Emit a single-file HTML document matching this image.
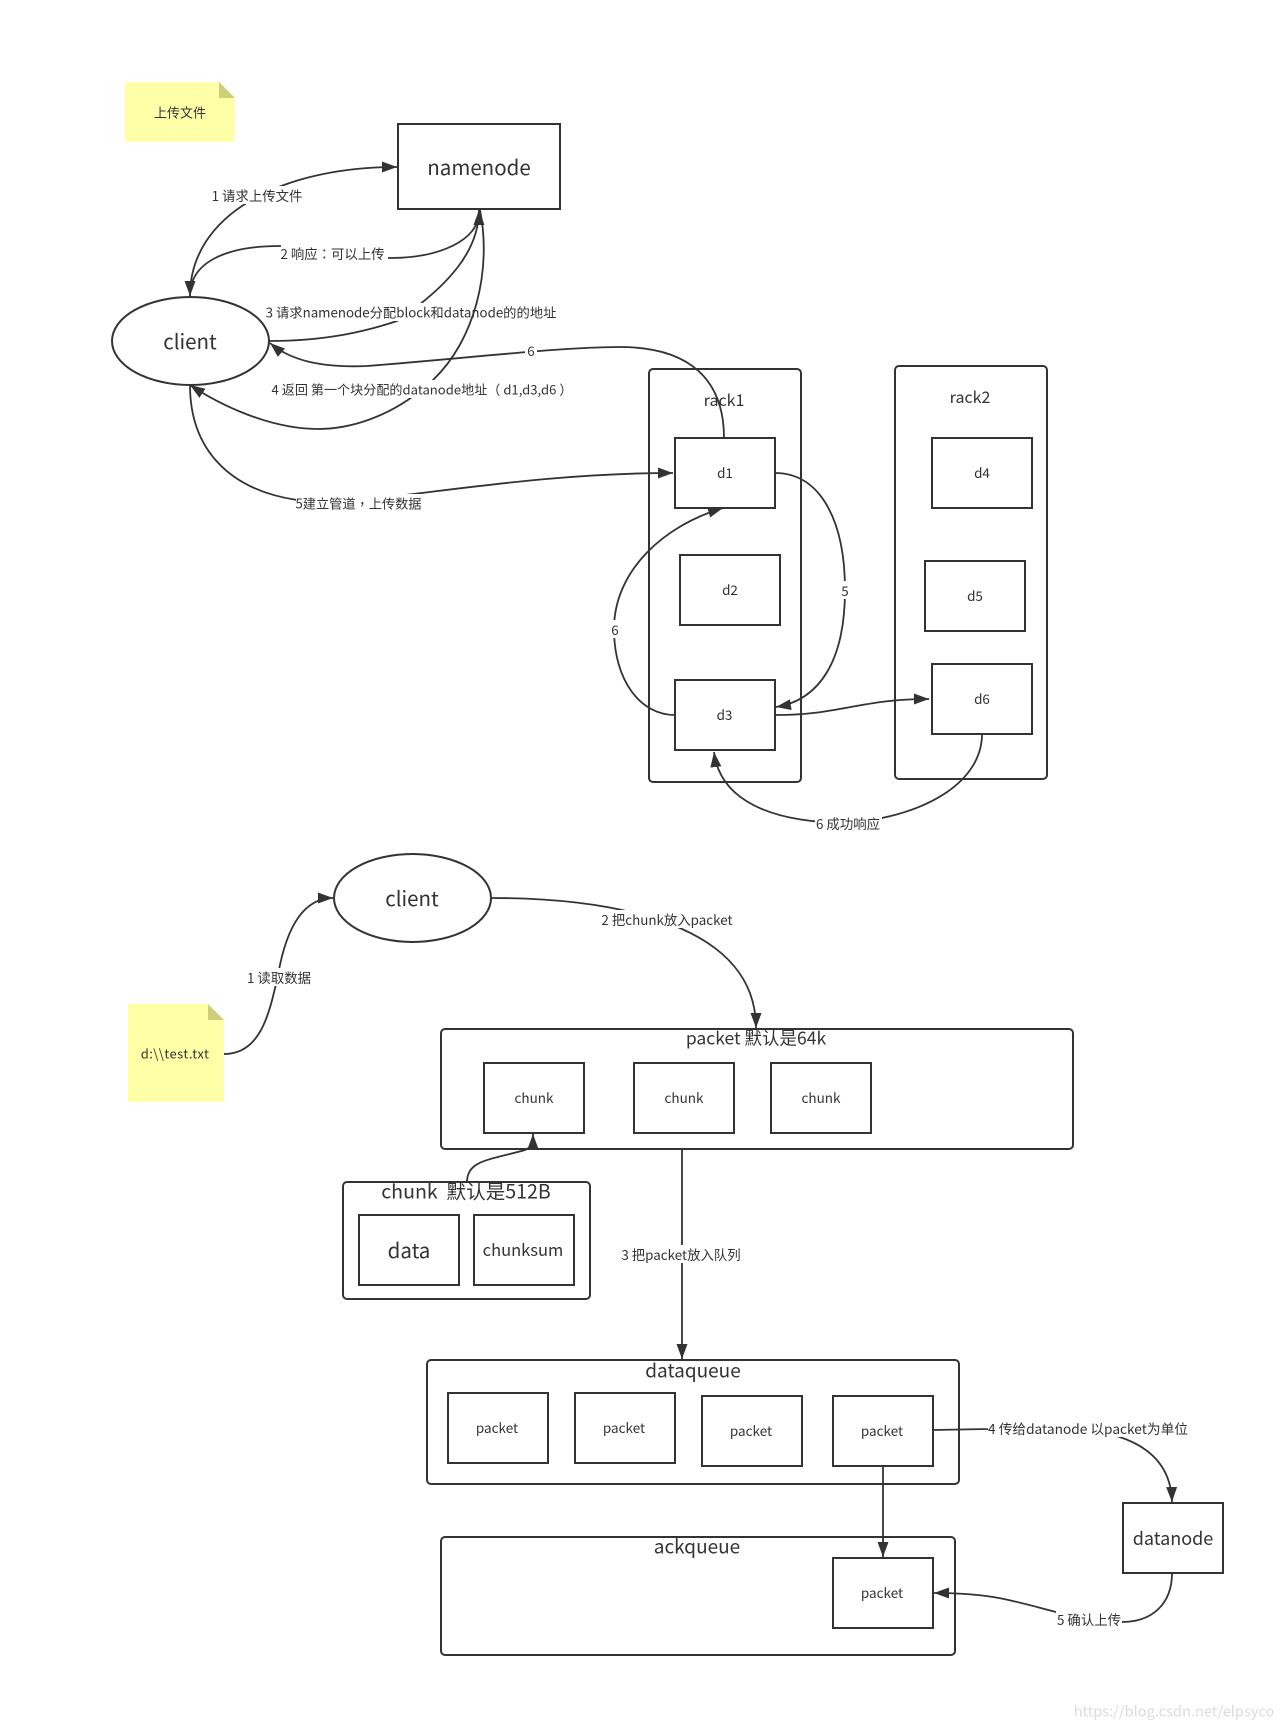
<!DOCTYPE html>
<html><head><meta charset="utf-8"><style>
html,body{margin:0;padding:0;background:#fff}
svg{display:block}
text{font-family:"Noto Sans CJK SC","Liberation Sans",sans-serif;fill:#333;text-anchor:middle;dominant-baseline:central}
text:not(.l){transform:translateY(-1px)}
tspan.c{font-family:"Noto Sans CJK TC","Noto Sans CJK SC",sans-serif}
.b{fill:#fff;stroke:#333;stroke-width:2}
.n{fill:none;stroke:#333;stroke-width:2}
.e{fill:none;stroke:#333;stroke-width:1.8;marker-end:url(#a)}
.w{fill:#fff;stroke:none}
.l{font-size:13.4px}
.s{font-size:13.5px}
</style></head><body>
<svg width="1284" height="1730" viewBox="0 0 1284 1730" xmlns="http://www.w3.org/2000/svg">
<defs><marker id="a" markerUnits="userSpaceOnUse" markerWidth="16" markerHeight="12" refX="15" refY="5.5" orient="auto"><path d="M0,0L15,5.5L0,11z" fill="#333"/></marker></defs>
<rect width="1284" height="1730" fill="#fff"/>

<!-- notes -->
<path d="M125,82H219L235,98V142H125z" fill="#ffffa8"/><path d="M219,82L235,98H219z" fill="#cfcf78"/>
<text x="180" y="113" style="font-size:13px">上传文件</text>
<path d="M128,1004H208L224,1020V1102H128z" fill="#ffffa8"/><path d="M208,1004L224,1020H208z" fill="#cfcf78"/>
<text x="175" y="1054" style="font-size:13px;letter-spacing:.45px">d:\\test.txt</text>

<!-- upper nodes -->
<rect x="398" y="124" width="162" height="85" class="b"/><text x="479" y="167" font-size="20.5">namenode</text>
<ellipse cx="190.5" cy="341" rx="78.5" ry="44" class="b"/><text x="190" y="341" font-size="20.5">client</text>
<rect x="649" y="369" width="152" height="413" rx="4" class="n"/>
<rect x="895" y="366" width="152" height="413" rx="4" class="n"/>
<text x="970" y="397" font-size="16">rack2</text>
<rect x="675" y="438" width="100" height="70" class="b"/><text x="725" y="473" class="s">d1</text>
<rect x="680" y="555" width="100" height="70" class="b"/><text x="730" y="590" class="s">d2</text>
<rect x="675" y="680" width="100" height="70" class="b"/><text x="724.5" y="715" class="s">d3</text>
<rect x="932" y="438" width="100" height="70" class="b"/><text x="982" y="473" class="s">d4</text>
<rect x="925" y="561" width="100" height="70" class="b"/><text x="975" y="596" class="s">d5</text>
<rect x="932" y="664" width="100" height="70" class="b"/><text x="982" y="699" class="s">d6</text>

<!-- upper edges -->
<path d="M190,296C190,215 280,167 397,167" class="e"/>
<rect x="210" y="186" width="94" height="18" class="w"/><text x="257" y="195" class="l">1 请求上传文件</text>

<path d="M479,212C479,240 440,258 390,258C360,258 320,246 280,246C230,246 190,260 190,296" class="e"/>
<rect x="281" y="244" width="107" height="18" class="w"/><text x="332.5" y="253" class="l">2 响应<tspan class="c">：</tspan>可以上传</text>

<path d="M269,341C330,341 370,330 397,321C450,285 479,250 479,210" class="e"/>
<rect x="266" y="303" width="291" height="18" class="w"/><text x="411" y="312" style="font-size:13.3px" class="l">3 请求namenode分配block和datanode的的地址</text>

<path d="M724,438C724,380 690,347 620,347C560,347 470,358 367,366C320,368 290,360 270,343" class="e"/>
<rect x="525" y="342" width="12" height="16" class="w"/><text x="531" y="350" class="l">6</text>

<path d="M480,210C492,270 475,340 433,380C390,420 345,429 318,429C270,429 220,405 190,385" class="e"/>
<rect x="271" y="380" width="297" height="18" class="w"/><text x="422" y="389" class="l" style="font-size:13.1px">4 返回 第一个块分配的datanode地址（ d1,d3,d6 ）</text>

<path d="M190,385C190,450 230,490 297,500C360,510 500,473 673,473" class="e"/>
<rect x="296" y="494" width="126" height="18" class="w"/><text x="358.5" y="503" class="l" style="font-size:13.2px">5建立管道<tspan class="c">，</tspan>上传数据</text>

<text x="724" y="400" font-size="16">rack1</text>

<path d="M775,473C820,473 845,520 845,590C845,660 820,700 776,707" class="e"/>
<rect x="839" y="581" width="12" height="18" class="w"/><text x="845" y="590" class="l">5</text>

<path d="M675,715C640,715 614,680 614,629C614,570 665,525 723,508" class="e"/>
<rect x="609" y="620" width="12" height="18" class="w"/><text x="615" y="629" class="l">6</text>

<path d="M776,715C840,715 860,699 929,699" class="e"/>

<path d="M982,734C982,780 930,815 850,823C770,823 720,800 714,752" class="e"/>
<rect x="815" y="814" width="67" height="18" class="w"/><text x="848" y="823" class="l">6 成功响应</text>

<!-- lower nodes -->
<ellipse cx="412.5" cy="898" rx="78.5" ry="44" class="b"/><text x="412" y="898" font-size="20.5">client</text>
<rect x="441" y="1029" width="632" height="120" rx="4" class="n"/>
<text x="756" y="1039" font-size="17.5">packet 默认是64k</text>
<rect x="484" y="1063" width="100" height="70" class="b"/><text x="534" y="1098" class="s">chunk</text>
<rect x="634" y="1063" width="100" height="70" class="b"/><text x="684" y="1098" class="s">chunk</text>
<rect x="771" y="1063" width="100" height="70" class="b"/><text x="821" y="1098" class="s">chunk</text>

<rect x="343" y="1182" width="247" height="117" rx="4" class="n"/>
<text x="466" y="1191" font-size="19.6" xml:space="preserve">chunk  默认是512B</text>
<rect x="359" y="1215" width="100" height="70" class="b"/><text x="409" y="1250" font-size="20.5">data</text>
<rect x="474" y="1215" width="100" height="70" class="b"/><text x="523" y="1250" font-size="16.5">chunksum</text>

<rect x="427" y="1360" width="532" height="124" rx="4" class="n"/>
<text x="693" y="1371" font-size="19">dataqueue</text>
<rect x="448" y="1393" width="100" height="70" class="b"/><text x="497" y="1428" class="s">packet</text>
<rect x="575" y="1393" width="100" height="70" class="b"/><text x="624" y="1428" class="s">packet</text>
<rect x="702" y="1396" width="100" height="70" class="b"/><text x="751" y="1431" class="s">packet</text>
<rect x="833" y="1396" width="100" height="70" class="b"/><text x="882" y="1431" class="s">packet</text>

<rect x="441" y="1537" width="514" height="118" rx="4" class="n"/>
<path d="M677,1537V1553" stroke="#333" stroke-width="1" fill="none"/>
<text x="697" y="1547" font-size="19">ackqueue</text>
<rect x="833" y="1558" width="100" height="70" class="b"/><text x="882" y="1593" class="s">packet</text>
<rect x="1123" y="1503" width="100" height="70" class="b"/><text x="1173" y="1539" font-size="18">datanode</text>

<!-- lower edges -->
<path d="M224,1054C262,1054 270,1010 278,975C285,935 300,898 333,898" class="e"/>
<rect x="246" y="968" width="68" height="18" class="w"/><text x="279" y="977" class="l">1 读取数据</text>

<path d="M491,898C590,898 756,915 756,1028" class="e"/>
<rect x="601" y="910" width="132" height="18" class="w"/><text x="667" y="919" class="l">2 把chunk放入packet</text>

<path d="M467,1182C467,1160 490,1160 525,1150C530,1148 533,1145 533,1134" class="e"/>

<path d="M682,1149V1359" class="e"/>
<rect x="621" y="1245" width="120" height="18" class="w"/><text x="681" y="1254" class="l">3 把packet放入队列</text>

<path d="M933,1430L988,1429C1060,1425 1170,1420 1172,1502" class="e"/>
<rect x="988" y="1419" width="200" height="18" class="w"/><text x="1088" y="1428" class="l" style="font-size:13.7px">4 传给datanode 以packet为单位</text>

<path d="M883,1466V1557" class="e"/>

<path d="M1172,1573C1172,1605 1151,1622 1122,1622C1100,1622 1056,1612 1056,1612C1010,1600 990,1593 934,1593" class="e"/>
<rect x="1056" y="1610" width="66" height="18" class="w"/><text x="1089" y="1619" class="l">5 确认上传</text>

<text x="1174" y="1712" font-size="14.6" style="fill:#dcdcdc">https://blog.csdn.net/elpsyco</text>
</svg>
</body></html>
